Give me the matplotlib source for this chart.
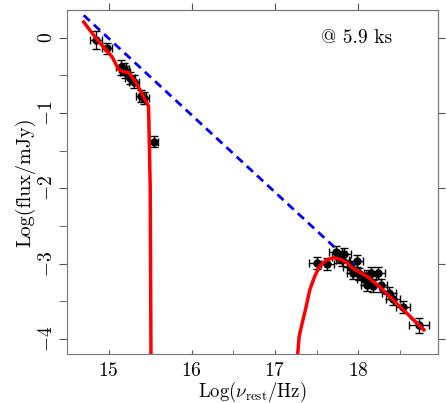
import numpy as np
import matplotlib
matplotlib.use("Agg")
import matplotlib.pyplot as plt

plt.rcParams['font.family'] = 'serif'
plt.rcParams['font.serif'] = ['cmr10', 'DejaVu Serif']
plt.rcParams['mathtext.fontset'] = 'cm'
plt.rcParams['axes.formatter.use_mathtext'] = True

# optical / UV points
opt_x = [14.85, 14.98, 15.15, 15.18, 15.20, 15.26, 15.30, 15.39, 15.43, 15.54]
opt_y = [-0.03, -0.14, -0.39, -0.42, -0.45, -0.53, -0.58, -0.77, -0.80, -1.38]
opt_xerr = [0.07, 0.06, 0.06, 0.06, 0.06, 0.06, 0.06, 0.06, 0.06, 0.05]
opt_yerr = [0.12, 0.07, 0.10, 0.08, 0.08, 0.08, 0.08, 0.08, 0.08, 0.07]

# X-ray points
xr_x = [17.51, 17.63, 17.73, 17.76, 17.83, 17.81, 17.90, 17.98, 17.94, 18.01, 18.07,
        18.13, 18.15, 18.11, 18.18, 18.24, 18.27, 18.37, 18.42, 18.54, 18.73]
xr_y = [-2.99, -3.00, -2.84, -2.91, -2.87, -2.95, -3.05, -2.97, -3.12, -3.14, -3.20,
        -3.16, -3.13, -3.28, -3.30, -3.13, -3.29, -3.39, -3.47, -3.57, -3.82]
xr_xerr = [0.10, 0.08, 0.08, 0.08, 0.08, 0.08, 0.08, 0.08, 0.08, 0.08, 0.08,
           0.08, 0.08, 0.08, 0.08, 0.08, 0.08, 0.08, 0.08, 0.08, 0.12]
xr_yerr = [0.08, 0.08, 0.08, 0.08, 0.08, 0.08, 0.08, 0.08, 0.08, 0.08, 0.08,
           0.08, 0.08, 0.08, 0.08, 0.08, 0.08, 0.08, 0.08, 0.08, 0.10]

# power law (dashed blue)
pl_x = [14.70, 18.79]
pl_y = [0.30, -3.88]

# absorbed model (red), optical part
mo_x = [14.70, 14.88, 15.04, 15.12, 15.18, 15.24, 15.32, 15.39, 15.48, 15.50, 15.51]
mo_y = [0.21, -0.05, -0.25, -0.42, -0.45, -0.46, -0.58, -0.72, -0.91, -2.0, -4.5]
# absorbed model, X-ray part
mx_x = [17.25, 17.29, 17.31, 17.32, 17.36, 17.42, 17.48, 17.54, 17.62, 17.71, 17.80,
        17.88, 17.92, 18.12, 18.27, 18.79]
mx_y = [-4.5, -3.97, -3.87, -3.82, -3.64, -3.34, -3.16, -3.03, -2.95, -2.92, -2.95,
        -3.00, -3.05, -3.18, -3.32, -3.88]

fig = plt.figure(figsize=(4.47, 4.03), dpi=100)
ax = fig.add_axes([0.150, 0.1216, 0.830, 0.8536])

ax.plot(pl_x, pl_y, color='blue', lw=2, ls=(0, (3, 2)), zorder=2)
ax.errorbar(opt_x, opt_y, xerr=opt_xerr, yerr=opt_yerr, fmt='o', color='black',
            ms=5, elinewidth=1, capsize=3, capthick=1, zorder=3)
ax.errorbar(xr_x, xr_y, xerr=xr_xerr, yerr=xr_yerr, fmt='o', color='black',
            ms=5, elinewidth=1, capsize=3, capthick=1, zorder=3)
ax.plot(mo_x, mo_y, color='red', lw=2.5, zorder=4)
ax.plot(mx_x, mx_y, color='red', lw=2.5, zorder=4)

ax.text(17.98, 0.0, '@ 5.9 ks', fontsize=14, ha='center', va='center')

ax.set_xlim(14.55, 18.96)
ax.set_ylim(-4.2, 0.37)

for s in ax.spines.values():
    s.set_color('#777777')

ax.set_xticks([15, 16, 17, 18])
ax.set_xticks(np.arange(14.5, 19.0, 0.5), minor=True)
ax.tick_params(axis='x', which='both', direction='in', length=3, labelsize=14,
               pad=6, color='#555555')
ax.set_yticks([0, -1, -2, -3, -4])
ax.set_yticks(np.arange(-4, 0.5, 0.5), minor=True)
ax.tick_params(axis='y', which='both', direction='out', length=6, labelsize=14,
               pad=2, color='#555555')
for lab in ax.get_yticklabels():
    lab.set_rotation(90)
    lab.set_va('center')

top = ax.secondary_xaxis('top')
top.set_xticks([15, 16, 17, 18])
top.tick_params(direction='out', length=5, labeltop=False, color='#555555')
top.spines['top'].set_color('#777777')
right = ax.secondary_yaxis('right')
right.set_yticks([0, -1, -2, -3, -4])
right.tick_params(direction='out', length=5, labelright=False, color='#555555')
right.spines['right'].set_color('#777777')

ax.set_xlabel(r'Log($\nu_{\rm rest}$/Hz)', fontsize=13.5, labelpad=0)
ax.set_ylabel('Log(flux/mJy)', fontsize=14.5, labelpad=2)

fig.savefig('out.png', dpi=100)
